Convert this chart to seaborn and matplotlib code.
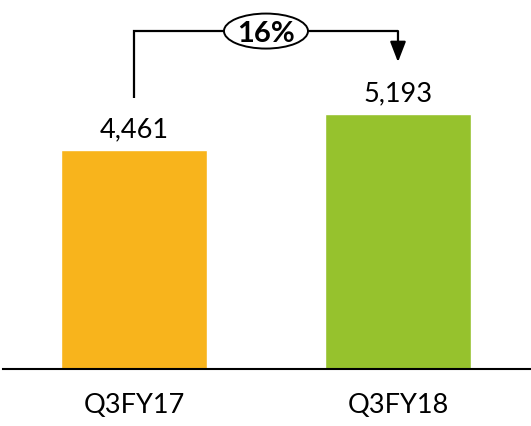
import matplotlib
matplotlib.use("Agg")
import matplotlib.pyplot as plt
from matplotlib.patches import Ellipse
import seaborn as sns
import pandas as pd

categories = ["Q3FY17", "Q3FY18"]
values = [4461, 5193]
colors = ["#F8B41C", "#96C22D"]

sns.set_style("white")
plt.rcParams["font.family"] = ["Lato", "DejaVu Sans"]

df = pd.DataFrame({"period": categories, "value": values})

W, H = 531, 426
fig = plt.figure(figsize=(W / 100, H / 100), dpi=100)
# axes spans from x=3px to 530px, baseline at 369px from the top
ax = fig.add_axes([3 / W, (H - 369) / H, 527 / W, 369 / H])

sns.barplot(data=df, x="period", y="value", hue="period", palette=colors,
            width=0.553, saturation=1, legend=False, ax=ax)

px = values[0] / (369 - 150)  # data units per pixel
ax.set_ylim(0, 369 * px)
ax.set_xlim(-0.496, 1.5)

for s in ["top", "right", "left"]:
    ax.spines[s].set_visible(False)
ax.spines["bottom"].set_linewidth(1.5)
ax.spines["bottom"].set_color("black")
ax.set_yticks([])
ax.set_xlabel("")
ax.set_ylabel("")
ax.tick_params(axis="x", length=0, pad=17, labelsize=19.5, labelcolor="black")

for i, v in enumerate(values):
    ax.annotate(f"{v:,}", xy=(i, v), xytext=(0, 9), textcoords="offset points",
                ha="center", va="baseline", fontsize=19.5, color="black")

# growth bracket
pct = round((values[1] / values[0] - 1) * 100)
y_top = values[1] + (114 - 31) * px
y_left = values[0] + (150 - 98) * px
y_tip = values[1] + (114 - 62) * px
lw = 1.6
ax.plot([0, 0, 1], [y_left, y_top, y_top], color="black", lw=lw,
        solid_capstyle="butt", solid_joinstyle="miter", clip_on=False)
ax.annotate("", xy=(1, y_tip), xytext=(1, y_top),
            arrowprops=dict(arrowstyle="-|>,head_length=0.62,head_width=0.24",
                            mutation_scale=20, color="black", lw=lw,
                            shrinkA=0, shrinkB=0))
ax.add_patch(Ellipse((0.5, y_top), width=84 / 264, height=35 * px,
                     facecolor="white", edgecolor="black", lw=1.4, zorder=5,
                     clip_on=False))
ax.text(0.5, y_top, f"{pct}%", ha="center", va="center_baseline",
        fontsize=21, fontweight="bold", color="black", zorder=6)

fig.savefig("out.png", dpi=100)
